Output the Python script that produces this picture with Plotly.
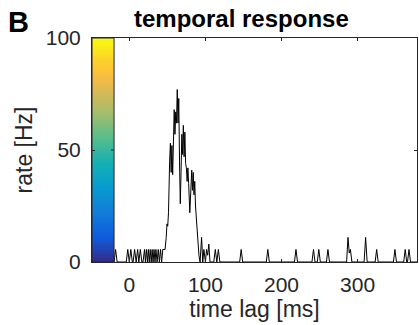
import plotly.graph_objects as go

# ---- data (vertices of the PSTH trace) ----
time_ms = [
    -20, -18, -16,
    -4, -2, 0, 2, 4, 5, 7, 9, 11, 12.5, 14.5, 16.5,
    18, 20, 21.2, 22.5, 23.8, 25, 26.2, 27.5, 28.8, 30, 31.2, 32.5, 33.8, 35, 36.5, 38, 39.5, 41, 42.5,
    44, 47, 48.5, 49.5, 50.5, 51.5, 53, 54, 55, 56, 57, 58, 59, 60, 61, 62, 63, 64, 65, 66, 67,
    68, 69, 70, 71, 72, 73, 74, 75, 76, 77, 78, 79.5, 81, 82, 83, 84, 85, 86, 87, 88.5, 90, 91.5, 93,
    95, 96.5, 98, 100, 101.5, 103, 104.5, 106, 111, 113, 115, 117, 119,
    145, 147, 149,
    180, 182, 184,
    217, 219, 221,
    240, 242, 244, 247, 249, 251,
    259, 261, 263,
    285.5, 287.3, 289, 290.5, 292.5,
    308.5, 310.5, 312.5,
    323, 325, 327,
    347, 349, 351,
    360.5, 362.5, 364.5, 365.5, 367.5, 369.5,
    378,
]
rate_hz = [
    0, 5.6, 0,
    0, 5.6, 0, 5.6, 0, 0, 5.6, 0, 5.6, 0, 5.6, 0,
    0, 5.6, 0, 5.6, 0, 5.6, 0, 5.6, 0, 5.6, 0, 5.6, 0, 5.6, 0, 5.6, 0, 5.6, 0,
    5.6, 5.6, 11, 17, 16, 22, 45, 53, 40, 52, 39, 55, 68, 57, 67, 62, 77, 62, 73, 45, 26,
    40, 57, 48, 61, 47, 58, 44, 42, 36, 42, 35, 22, 33, 41, 32, 40, 30, 36, 25, 17, 10, 3, 0,
    11, 0, 5.6, 0, 5.6, 3, 8, 0, 0, 5.6, 0, 5.6, 0,
    0, 5.6, 0,
    0, 5.6, 0,
    0, 5.6, 0,
    0, 5.6, 0, 0, 5.6, 0,
    0, 5.6, 0,
    0, 11, 4, 5.6, 0,
    0, 11, 0,
    0, 5.6, 0,
    0, 5.6, 0,
    0, 5.6, 0, 0, 5.6, 0,
    0,
]

x_tick_vals = [0, 100, 200, 300]
y_tick_vals = [0, 50, 100]
colorbar_levels_hz = list(range(0, 101))   # colour strip 0..100 Hz

# MATLAB parula colour map (style)
PARULA = [
    (0.000, (0.2081, 0.1663, 0.5292)),
    (0.111, (0.0591, 0.3598, 0.8683)),
    (0.222, (0.0723, 0.4887, 0.8467)),
    (0.333, (0.0265, 0.6137, 0.8135)),
    (0.444, (0.0843, 0.6928, 0.7062)),
    (0.556, (0.3482, 0.7424, 0.5473)),
    (0.667, (0.6473, 0.7456, 0.4188)),
    (0.778, (0.8824, 0.7274, 0.3217)),
    (0.841, (0.9938, 0.7455, 0.2403)),
    (0.889, (0.9880, 0.8066, 0.1794)),
    (1.000, (0.9763, 0.9831, 0.0538)),
]
colorscale = [[p, "rgb(%d,%d,%d)" % tuple(round(c * 255) for c in rgb)] for p, rgb in PARULA]

FONT = "Liberation Sans, Arial, Helvetica, sans-serif"
AX = "#262626"
X_LO, X_HI = -49, 378
CB_RIGHT = -20

fig = go.Figure()

mids = [(a + b) / 2 for a, b in zip(colorbar_levels_hz[:-1], colorbar_levels_hz[1:])]
fig.add_trace(go.Heatmap(
    x=[X_LO, CB_RIGHT], y=colorbar_levels_hz, z=[[m] for m in mids],
    colorscale=colorscale, zmin=0, zmax=100, showscale=False, hoverinfo="skip",
))
fig.add_trace(go.Scatter(
    x=time_ms, y=rate_hz, mode="lines",
    line=dict(color="black", width=1), hoverinfo="skip", showlegend=False,
))

fig.add_shape(type="rect", xref="x", yref="y", x0=X_LO, x1=CB_RIGHT, y0=0, y1=100,
              line=dict(color=AX, width=1), fillcolor="rgba(0,0,0,0)")
fig.add_shape(type="line", xref="x", yref="y", x0=CB_RIGHT - 4, x1=CB_RIGHT, y0=50, y1=50,
              line=dict(color=AX, width=1))

fig.update_layout(
    width=419, height=325,
    margin=dict(l=92, r=2, t=38, b=63, pad=0),
    paper_bgcolor="white", plot_bgcolor="white",
    font=dict(family=FONT, color=AX, size=21),
    showlegend=False,
)
fig.update_xaxes(
    range=[X_LO, X_HI], tickvals=x_tick_vals, ticks="inside", ticklen=3, tickcolor=AX,
    showline=True, linecolor=AX, linewidth=1, mirror="ticks", showgrid=False, zeroline=False,
    tickfont=dict(size=21, color=AX, family=FONT), ticklabelstandoff=4,
    title=dict(text="time lag [ms]", font=dict(size=23, color=AX, family=FONT), standoff=4),
)
fig.update_yaxes(
    range=[0, 100], tickvals=y_tick_vals, ticks="inside", ticklen=3, tickcolor=AX,
    showline=True, linecolor=AX, linewidth=1, mirror="ticks", showgrid=False, zeroline=False,
    tickfont=dict(size=21, color=AX, family=FONT), ticklabelstandoff=6,
    title=dict(text="rate [Hz]", font=dict(size=23, color=AX, family=FONT), standoff=6),
)

fig.add_annotation(text="<b>temporal response</b>", xref="paper", yref="paper",
                   x=(241.5 - 92) / 325, y=(262 - 18) / 224, xanchor="center", yanchor="middle",
                   showarrow=False, font=dict(size=24, color="black", family=FONT))
fig.add_annotation(text="<b>B</b>", xref="paper", yref="paper",
                   x=(18.5 - 92) / 325, y=(262 - 22.5) / 224, xanchor="center", yanchor="middle",
                   showarrow=False, font=dict(size=29, color="black", family=FONT))

fig.write_html("out.html")
